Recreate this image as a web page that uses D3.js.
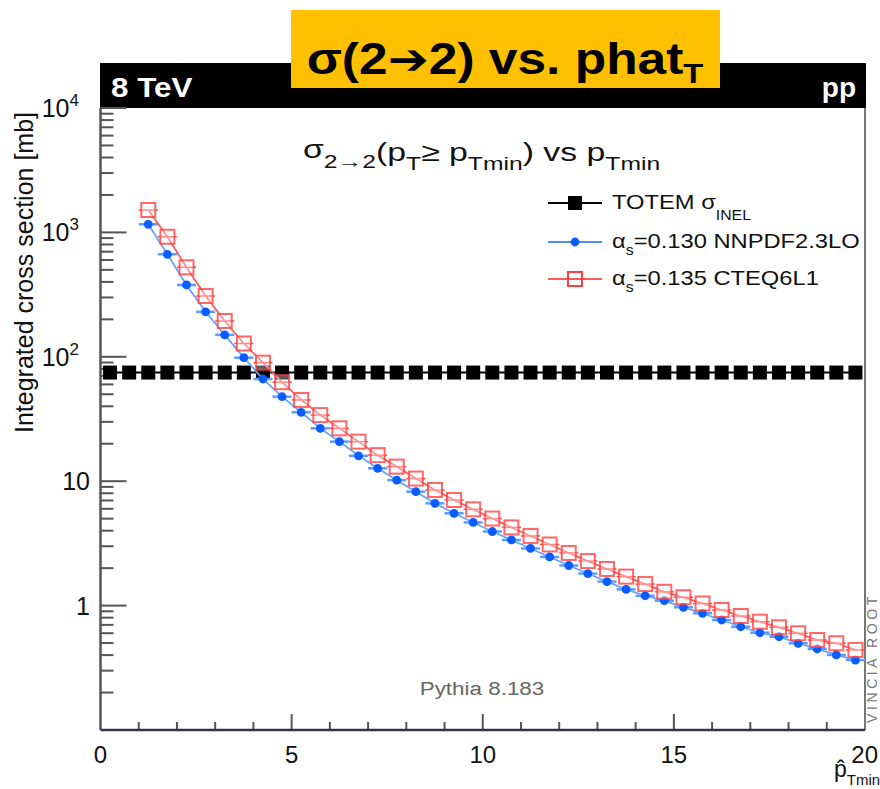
<!DOCTYPE html>
<html lang="en">
<head>
<meta charset="UTF-8">
<title>sigma 2to2 vs pTmin</title>
<script src="https://d3js.org/d3.v7.min.js"></script>
<style>
  body { margin: 0; background: #fff; }
  text { font-family: "Liberation Sans", Arial, Helvetica, sans-serif; }
</style>
</head>
<body>
<script>
// x positions (bin centres, GeV)
var ptBins = [];
for (var i = 0; i < 38; i++) ptBins.push(1.25 + 0.5 * i);
var totemBins = [];
for (var j = 0; j < 40; j++) totemBins.push(0.25 + 0.5 * j);

// integrated cross sections [mb]
var totemSigma = 74.7;
var cteqValues = [1514, 923, 524, 308, 194, 128, 89.7, 62.5, 45.0, 34.0,
  26.6, 20.8, 16.2, 13.1, 10.5, 8.5, 7.06, 5.94, 5.01, 4.25,
  3.63, 3.10, 2.65, 2.28, 1.97, 1.71, 1.49, 1.29, 1.166, 1.04,
  0.922, 0.825, 0.742, 0.669, 0.599, 0.529, 0.498, 0.440];
var nnpdfValues = [1162, 667, 378, 230, 150, 98.4, 66.3, 47.8, 35.8, 26.6,
  20.8, 16.0, 12.7, 10.2, 8.24, 6.64, 5.52, 4.66, 3.94, 3.37,
  2.88, 2.46, 2.10, 1.81, 1.56, 1.35, 1.20, 1.095, 0.969, 0.867,
  0.766, 0.676, 0.605, 0.562, 0.498, 0.448, 0.401, 0.365];

var xTickLabels = ["0", "5", "10", "15", "20"];
var yTickLabels = [
  { v: 1e4, base: "10", exp: "4" },
  { v: 1e3, base: "10", exp: "3" },
  { v: 1e2, base: "10", exp: "2" },
  { v: 10, base: "10", exp: "" },
  { v: 1, base: "1", exp: "" }
];

var W = 880, H = 789;
var pL = 100.5, pR = 865, pT = 108, pB = 730;

var svg = d3.select("body").append("svg")
  .attr("width", W).attr("height", H);

var x = d3.scaleLinear().domain([0, 20]).range([pL, pR]);
var y = d3.scaleLog().domain([0.1, 1e4]).range([pB, pT]);

// text that is a bit wider than the font (ROOT rendering)
function wideText(px, py, sx) {
  return svg.append("g").attr("transform", "translate(" + px + "," + py + ") scale(" + sx + ",1)")
    .append("text").attr("x", 0).attr("y", 0);
}

// black header band
svg.append("rect").attr("x", 100).attr("y", 63).attr("width", 766).attr("height", 45).attr("fill", "#000");
wideText(111, 97, 1.12).attr("fill", "#fff")
  .attr("font-size", 28).attr("font-weight", "bold").text("8 TeV");
svg.append("text").attr("x", 856).attr("y", 97).attr("fill", "#fff").attr("text-anchor", "end")
  .attr("font-size", 28).attr("font-weight", "bold").text("pp");

// orange title box
svg.append("rect").attr("x", 291).attr("y", 10).attr("width", 429).attr("height", 78).attr("fill", "#FFC000");
var t = wideText(505, 74, 1.17).attr("text-anchor", "middle")
  .attr("font-size", 44).attr("font-weight", "bold").attr("fill", "#000");
t.append("tspan").text("σ(2");
t.append("tspan").attr("font-family", "DejaVu Sans").attr("font-size", 42).text("➔");
t.append("tspan").text("2) vs. phat");
t.append("tspan").attr("font-size", 28).attr("dy", 9).text("T");

// frame
svg.append("line").attr("x1", pR).attr("x2", pR).attr("y1", pT).attr("y2", pB)
  .attr("stroke", "#777").attr("stroke-width", 2);

// y axis ticks
var g = svg.append("g");
var minor = [];
for (var e = -1; e < 4; e++) {
  for (var m = 2; m <= 9; m++) minor.push(m * Math.pow(10, e));
}
g.selectAll(".ymin").data(minor).enter().append("line")
  .attr("x1", pL).attr("x2", pL + 13)
  .attr("y1", d => y(d)).attr("y2", d => y(d))
  .attr("stroke", "#555").attr("stroke-width", 2);
g.selectAll(".ymaj").data(yTickLabels).enter().append("line")
  .attr("x1", pL).attr("x2", pL + 26)
  .attr("y1", d => y(d.v)).attr("y2", d => y(d.v))
  .attr("stroke", "#555").attr("stroke-width", 2);
var yl = g.selectAll(".ylab").data(yTickLabels).enter().append("text")
  .attr("x", d => d.exp ? 79 : 90).attr("y", d => y(d.v) + 9)
  .attr("text-anchor", "end").attr("font-size", 25).attr("fill", "#111");
yl.append("tspan").text(d => d.base);
yl.filter(d => d.exp).append("tspan").attr("font-size", 17).attr("dy", -11).text(d => d.exp);

// x axis ticks
var xminor = d3.range(1, 20);
g.selectAll(".xmin").data(xminor).enter().append("line")
  .attr("x1", d => x(d)).attr("x2", d => x(d))
  .attr("y1", pB).attr("y2", d => d % 5 === 0 ? pB - 16 : pB - 8)
  .attr("stroke", "#555").attr("stroke-width", 2);
g.selectAll(".xlab").data(xTickLabels).enter().append("text")
  .attr("x", d => d === "20" ? 878 : x(+d)).attr("y", 763)
  .attr("text-anchor", d => d === "20" ? "end" : "middle")
  .attr("font-size", 24).attr("fill", "#111").text(d => d);

svg.append("line").attr("x1", pL).attr("x2", pL).attr("y1", pT).attr("y2", pB)
  .attr("stroke", "#555").attr("stroke-width", 2.5);
svg.append("line").attr("x1", pL).attr("x2", pR).attr("y1", pB).attr("y2", pB)
  .attr("stroke", "#334").attr("stroke-width", 2.5);

// axis titles
svg.append("text").attr("transform", "translate(33,112) rotate(-90)")
  .attr("text-anchor", "end").attr("font-size", 25).attr("fill", "#111")
  .text("Integrated cross section [mb]");
var xt = svg.append("text").attr("x", 834).attr("y", 777).attr("font-size", 23).attr("fill", "#111");
xt.append("tspan").text("p̂");
xt.append("tspan").attr("font-size", 15).attr("dy", 8).text("Tmin");

// plot title
var ptl = wideText(303, 161, 1.3).attr("font-size", 26).attr("fill", "#111");
ptl.append("tspan").attr("dy", -3).text("σ");
ptl.append("tspan").attr("font-size", 19).attr("dy", 10).text("2→2");
ptl.append("tspan").attr("dy", -7).text("(p");
ptl.append("tspan").attr("font-size", 19).attr("dy", 9).text("T");
ptl.append("tspan").attr("dy", -9).text("≥ p");
ptl.append("tspan").attr("font-size", 19).attr("dy", 9).text("Tmin");
ptl.append("tspan").attr("dy", -9).text(") vs p");
ptl.append("tspan").attr("font-size", 19).attr("dy", 9).text("Tmin");

// series
var line = d3.line().x(d => x(d[0])).y(d => y(d[1]));
var totemPts = totemBins.map(b => [b, totemSigma]);
var cteqPts = ptBins.map((b, i) => [b, cteqValues[i]]);
var nnpdfPts = ptBins.map((b, i) => [b, nnpdfValues[i]]);

// TOTEM
svg.append("path").attr("d", line(totemPts)).attr("fill", "none").attr("stroke", "#000").attr("stroke-width", 2);
svg.selectAll(".tot").data(totemPts).enter().append("rect")
  .attr("x", d => x(d[0]) - 7).attr("y", d => y(d[1]) - 7)
  .attr("width", 14).attr("height", 14).attr("fill", "#000");

// NNPDF (blue)
svg.selectAll(".nerr").data(nnpdfPts).enter().append("line")
  .attr("x1", d => x(d[0] - 0.25)).attr("x2", d => x(d[0] + 0.25))
  .attr("y1", d => y(d[1])).attr("y2", d => y(d[1]))
  .attr("stroke", "#5a9cff").attr("stroke-width", 2.5);
svg.append("path").attr("d", line(nnpdfPts)).attr("fill", "none")
  .attr("stroke", "#6aa2ff").attr("stroke-width", 1.8);
svg.selectAll(".nn").data(nnpdfPts).enter().append("circle")
  .attr("cx", d => x(d[0])).attr("cy", d => y(d[1])).attr("r", 4.4)
  .attr("fill", "#0a5cff");

// CTEQ (red)
svg.selectAll(".cerr").data(cteqPts).enter().append("line")
  .attr("x1", d => x(d[0] - 0.25)).attr("x2", d => x(d[0] + 0.25))
  .attr("y1", d => y(d[1])).attr("y2", d => y(d[1]))
  .attr("stroke", "#ff4d4d").attr("stroke-width", 1.5);
svg.append("path").attr("d", line(cteqPts)).attr("fill", "none")
  .attr("stroke", "#ff5a5a").attr("stroke-width", 1.8);
svg.selectAll(".ct").data(cteqPts).enter().append("rect")
  .attr("x", d => x(d[0]) - 7).attr("y", d => y(d[1]) - 7)
  .attr("width", 14).attr("height", 14)
  .attr("fill", "rgba(255,255,255,0.35)").attr("stroke", "#ff4040").attr("stroke-width", 2).attr("stroke-opacity", 0.8);

// legend
var leg = [
  { y: 203, label: "TOTEM σ", sub: "INEL", pre: "", col: "#000", kind: "sq" },
  { y: 242, label: "=0.130 NNPDF2.3LO", pre: "α", sub: "s", col: "#4d8cff", kind: "dot" },
  { y: 279, label: "=0.135 CTEQ6L1", pre: "α", sub: "s", col: "#ff5a5a", kind: "open" }
];
leg.forEach(function (d) {
  svg.append("line").attr("x1", 548).attr("x2", 602).attr("y1", d.y).attr("y2", d.y)
    .attr("stroke", d.col).attr("stroke-width", 2);
  if (d.kind === "sq") svg.append("rect").attr("x", 568).attr("y", d.y - 7).attr("width", 14).attr("height", 14).attr("fill", "#000");
  if (d.kind === "dot") svg.append("circle").attr("cx", 575).attr("cy", d.y).attr("r", 4.4).attr("fill", "#0a5cff");
  if (d.kind === "open") svg.append("rect").attr("x", 568).attr("y", d.y - 7).attr("width", 14).attr("height", 14)
    .attr("fill", "none").attr("stroke", "#ff4040").attr("stroke-width", 2);
  var tx = wideText(612, d.y + 6, 1.13).attr("font-size", 21).attr("fill", "#111");
  if (d.pre) {
    tx.append("tspan").text(d.pre);
    tx.append("tspan").attr("font-size", 14).attr("dy", 7).text(d.sub);
    tx.append("tspan").attr("dy", -7).text(d.label);
  } else {
    tx.append("tspan").text(d.label);
    tx.append("tspan").attr("font-size", 14).attr("dy", 11).text(d.sub);
  }
});

// annotations
wideText(482, 695, 1.18).attr("text-anchor", "middle")
  .attr("font-size", 19).attr("fill", "#666").text("Pythia 8.183");
svg.append("text").attr("transform", "translate(877,723) rotate(-90)")
  .attr("font-size", 14).attr("fill", "#777").attr("letter-spacing", 3.6)
  .text("VINCIA ROOT");
</script>
</body>
</html>
